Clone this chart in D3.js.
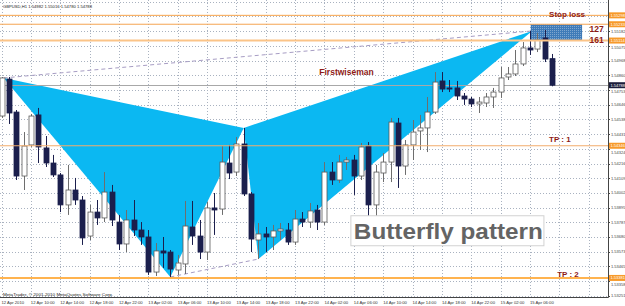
<!DOCTYPE html>
<html>
<head>
<meta charset="utf-8">
<script src="https://cdn.jsdelivr.net/npm/d3@7/dist/d3.min.js"></script>
<style>
  body { margin: 0; background: #fff; }
  svg { display: block; font-family: "Liberation Sans", Arial, sans-serif; }
</style>
</head>
<body>
<svg id="chart" width="625" height="306"></svg>
<script>
// GBPUSD H1 bars, first bar = 12 Apr 2010 06:00
const timeLabels = ["12 Apr 2010", "12 Apr 10:00", "12 Apr 14:00", "12 Apr 18:00", "12 Apr 22:00",
  "13 Apr 02:00", "13 Apr 06:00", "13 Apr 10:00", "13 Apr 14:00", "13 Apr 18:00", "13 Apr 22:00",
  "14 Apr 02:00", "14 Apr 06:00", "14 Apr 10:00", "14 Apr 14:00", "14 Apr 18:00", "14 Apr 22:00",
  "15 Apr 02:00", "15 Apr 06:00"];

const opens = [1.54563, 1.54833, 1.54592, 1.54125, 1.54352, 1.54571, 1.54330, 1.54220, 1.54133, 1.53914,
  1.54023, 1.53950, 1.53687, 1.53862, 1.53819, 1.54008, 1.53789, 1.53629, 1.53804, 1.53731,
  1.53680, 1.53424, 1.53578, 1.53570, 1.53439, 1.53483, 1.53753, 1.53687, 1.53570, 1.53892,
  1.53884, 1.54220, 1.54154, 1.54359, 1.53994, 1.53658, 1.53702, 1.53680, 1.53724, 1.53731,
  1.53643, 1.53811, 1.53789, 1.53877, 1.53789, 1.54154, 1.54096, 1.54227, 1.54242, 1.54125,
  1.54344, 1.53914, 1.54147, 1.54227, 1.54512, 1.54198, 1.54352, 1.54454, 1.54476, 1.54592,
  1.54819, 1.54768, 1.54768, 1.54709, 1.54687, 1.54651, 1.54658, 1.54702, 1.54738, 1.54848,
  1.54870, 1.54943, 1.55060, 1.55052, 1.55133, 1.54982];
const highs = [1.54848, 1.54848, 1.54607, 1.54446, 1.54578, 1.54622, 1.54417, 1.54279, 1.54147, 1.54206,
  1.54111, 1.53979, 1.53914, 1.53950, 1.54154, 1.54060, 1.53841, 1.53877, 1.53950, 1.53789,
  1.53731, 1.53636, 1.53680, 1.53585, 1.53549, 1.53943, 1.53943, 1.53804, 1.53935, 1.54001,
  1.54344, 1.54352, 1.54410, 1.54476, 1.54008, 1.53782, 1.53753, 1.53768, 1.53782, 1.53782,
  1.53877, 1.53862, 1.53928, 1.53914, 1.54227, 1.54227, 1.54279, 1.54264, 1.54279, 1.54366,
  1.54373, 1.54206, 1.54293, 1.54549, 1.54549, 1.54388, 1.54534, 1.54571, 1.54702, 1.54884,
  1.54884, 1.54826, 1.54819, 1.54731, 1.54702, 1.54702, 1.54731, 1.54768, 1.54921, 1.54921,
  1.55045, 1.55103, 1.55184, 1.55169, 1.55191, 1.55016];
const lows = [1.54549, 1.54505, 1.54096, 1.54023, 1.54337, 1.54220, 1.54191, 1.54118, 1.53862, 1.53841,
  1.53914, 1.53622, 1.53658, 1.53768, 1.53789, 1.53760, 1.53585, 1.53570, 1.53687, 1.53622,
  1.53403, 1.53395, 1.53454, 1.53388, 1.53403, 1.53410, 1.53622, 1.53519, 1.53512, 1.53695,
  1.53841, 1.54103, 1.54125, 1.53979, 1.53570, 1.53519, 1.53570, 1.53585, 1.53658, 1.53622,
  1.53622, 1.53753, 1.53746, 1.53731, 1.53768, 1.54060, 1.54074, 1.54169, 1.53987, 1.54096,
  1.53811, 1.53789, 1.54081, 1.54081, 1.54038, 1.54133, 1.54242, 1.54315, 1.54300, 1.54578,
  1.54738, 1.54738, 1.54680, 1.54644, 1.54629, 1.54585, 1.54629, 1.54622, 1.54695, 1.54826,
  1.54855, 1.54928, 1.55009, 1.55030, 1.54957, 1.54780];
const closes = [1.54841, 1.54585, 1.54125, 1.54344, 1.54563, 1.54337, 1.54220, 1.54133, 1.53914, 1.54023,
  1.53950, 1.53673, 1.53862, 1.53819, 1.54008, 1.53804, 1.53629, 1.53804, 1.53731, 1.53680,
  1.53424, 1.53578, 1.53563, 1.53446, 1.53490, 1.53760, 1.53687, 1.53570, 1.53892, 1.53877,
  1.54227, 1.54147, 1.54359, 1.53994, 1.53665, 1.53702, 1.53680, 1.53724, 1.53738, 1.53643,
  1.53811, 1.53789, 1.53870, 1.53789, 1.54154, 1.54096, 1.54227, 1.54242, 1.54125, 1.54337,
  1.53914, 1.54154, 1.54227, 1.54519, 1.54198, 1.54352, 1.54446, 1.54476, 1.54592, 1.54811,
  1.54760, 1.54760, 1.54709, 1.54687, 1.54651, 1.54665, 1.54702, 1.54738, 1.54841, 1.54870,
  1.54943, 1.55060, 1.55045, 1.55118, 1.54979, 1.54788];

// price axis grid values
const gridPrices = [1.55397, 1.55290, 1.55182, 1.55075, 1.54968, 1.54860, 1.54753, 1.54646, 1.54538,
  1.54431, 1.54324, 1.54216, 1.54109, 1.54002, 1.53895, 1.53787, 1.53680, 1.53573, 1.53465,
  1.53358, 1.53251];

// butterfly points X A B C D (bar index, price)
const patternBars = [0.3, 23, 33, 35, 72.3];
const patternPrices = [1.54841, 1.53388, 1.54476, 1.53519, 1.55184];

// horizontal levels: stop loss, 127, 161, TP1, TP2
const levelPrices = [1.55298, 1.55233, 1.55114, 1.54346, 1.53381];
const levelColors = ["#f7a34a", "#f5a552", "#fbc488", "#f2ad6c", "#ff9a14"];
const levelWidths = [1, 1, 2, 1, 1.5];
const bid = 1.54788;

// target zone rectangle
const zoneBars = [72.1, 79.1];
const zonePrices = [1.55233, 1.55114];

// text objects on the chart
const noteTexts = ["Stop loss", "127", "161", "Firstwiseman", "TP : 1", "TP : 2"];
const noteBars = [74.6, 80.1, 80.1, 43.3, 74.6, 75.7];
const notePrices = [1.55287, 1.55176, 1.55094, 1.54863, 1.54370, 1.53389];
const noteSizes = [8, 8.5, 8.5, 8.5, 8, 8];

const boxBars = [47.6, 73.9];
const boxPrices = [1.53835, 1.53616];

const W = 625, H = 306;
const plotRight = 608, plotBottom = 297;

const x = d3.scaleLinear().domain([0, 82]).range([1.5, 1.5 + 7.34 * 82]);
const y = d3.scaleLinear().domain([1.55410, 1.53250]).range([0, (1.55410 - 1.53250) / 0.000073]);

const svg = d3.select("#chart");
svg.append("rect").attr("width", W).attr("height", H).attr("fill", "#fff");

const defs = svg.append("defs");
defs.append("clipPath").attr("id", "clip")
  .append("rect").attr("width", plotRight).attr("height", plotBottom);
const pat = defs.append("pattern").attr("id", "dots")
  .attr("width", 2).attr("height", 2).attr("patternUnits", "userSpaceOnUse");
pat.append("rect").attr("width", 2).attr("height", 2).attr("fill", "#3f7bb8");
pat.append("rect").attr("width", 1).attr("height", 1).attr("fill", "#7ea6cf");

const g = svg.append("g").attr("clip-path", "url(#clip)");

// grid
const vGrid = d3.range(0, 84, 4);
g.selectAll(".vg").data(vGrid).enter().append("line")
  .attr("x1", d => Math.round(x(d)) + 0.5).attr("x2", d => Math.round(x(d)) + 0.5)
  .attr("y1", 0).attr("y2", plotBottom)
  .attr("stroke", "#a9b2c0").attr("stroke-width", 1).attr("stroke-dasharray", "1,2");
g.selectAll(".hg").data(gridPrices).enter().append("line")
  .attr("x1", 0).attr("x2", plotRight)
  .attr("y1", d => Math.round(y(d)) + 0.5).attr("y2", d => Math.round(y(d)) + 0.5)
  .attr("stroke", "#a9b2c0").attr("stroke-width", 1).attr("stroke-dasharray", "1,2");

// butterfly triangles XAB and BCD
const pts = patternBars.map((b, i) => [x(b), y(patternPrices[i])]);
[[0, 1, 2], [2, 3, 4]].forEach(t => {
  g.append("polygon")
    .attr("points", t.map(i => pts[i].join(",")).join(" "))
    .attr("fill", "#0bb8f2");
});

// zone rectangle
g.append("rect")
  .attr("x", x(zoneBars[0])).attr("y", y(zonePrices[0]))
  .attr("width", x(zoneBars[1]) - x(zoneBars[0]))
  .attr("height", y(zonePrices[1]) - y(zonePrices[0]))
  .attr("fill", "url(#dots)");

// dashed lines X-D and A-C
[[0, 4], [1, 3]].forEach(p => {
  g.append("line")
    .attr("x1", pts[p[0]][0]).attr("y1", pts[p[0]][1])
    .attr("x2", pts[p[1]][0]).attr("y2", pts[p[1]][1])
    .attr("stroke", "#a79dc4").attr("stroke-width", 1).attr("stroke-dasharray", "4,3");
});

// bid line
g.append("line").attr("x1", 0).attr("x2", plotRight)
  .attr("y1", Math.round(y(bid)) + 0.5).attr("y2", Math.round(y(bid)) + 0.5)
  .attr("stroke", "#a8a8a8");

// candles
const bars = d3.range(opens.length);
const candle = g.selectAll(".c").data(bars).enter().append("g");
candle.append("line")
  .attr("x1", d => Math.round(x(d)) + 0.5).attr("x2", d => Math.round(x(d)) + 0.5)
  .attr("y1", d => y(highs[d])).attr("y2", d => y(lows[d]))
  .attr("stroke", d => closes[d] >= opens[d] ? "#6e6e6e" : "#1b1f4d");
candle.append("rect")
  .attr("x", d => Math.round(x(d)) - 2)
  .attr("y", d => y(Math.max(opens[d], closes[d])))
  .attr("width", 5)
  .attr("height", d => Math.max(1, Math.abs(y(opens[d]) - y(closes[d]))))
  .attr("fill", d => closes[d] >= opens[d] ? "#fff" : "#1b1f4d")
  .attr("stroke", d => closes[d] >= opens[d] ? "#5a5a5a" : "#1b1f4d")
  .attr("stroke-width", 0.8);

// horizontal levels
g.selectAll(".lv").data(levelPrices).enter().append("line")
  .attr("x1", 0).attr("x2", plotRight)
  .attr("y1", d => y(d)).attr("y2", d => y(d))
  .attr("stroke", (d, i) => levelColors[i])
  .attr("stroke-width", (d, i) => levelWidths[i]);

// "Butterfly pattern" label box
g.append("rect")
  .attr("x", x(boxBars[0])).attr("y", y(boxPrices[0]))
  .attr("width", x(boxBars[1]) - x(boxBars[0]))
  .attr("height", y(boxPrices[1]) - y(boxPrices[0]))
  .attr("fill", "#fff").attr("stroke", "#d2d2d2");
g.append("text")
  .attr("x", x(boxBars[0]) + 3).attr("y", y(boxPrices[1]) - 6.5)
  .attr("font-size", 22).attr("font-weight", "bold").attr("fill", "#646464")
  .attr("textLength", 189).attr("lengthAdjust", "spacingAndGlyphs")
  .text("Butterfly pattern");

// notes
g.selectAll(".nt").data(noteTexts).enter().append("text")
  .attr("x", (d, i) => x(noteBars[i])).attr("y", (d, i) => y(notePrices[i]))
  .attr("font-size", (d, i) => noteSizes[i]).attr("font-weight", "bold")
  .attr("fill", "#8e1a16")
  .text(d => d);

// title and copyright
svg.append("text").attr("x", 3).attr("y", 7.5).attr("font-size", 4.3).attr("fill", "#222")
  .attr("textLength", 89).attr("lengthAdjust", "spacingAndGlyphs")
  .text("GBPUSD,H1 1.54982 1.55016 1.54780 1.54788");
svg.append("text").attr("x", 3).attr("y", 295.5).attr("font-size", 4.4).attr("fill", "#222")
  .attr("textLength", 110).attr("lengthAdjust", "spacingAndGlyphs")
  .text("MetaTrader, \u00a9 2001-2010 MetaQuotes Software Corp.");

// axes frame
svg.append("line").attr("x1", 0).attr("x2", plotRight + 0.5)
  .attr("y1", plotBottom + 0.5).attr("y2", plotBottom + 0.5).attr("stroke", "#444");
svg.append("line").attr("x1", plotRight + 0.5).attr("x2", plotRight + 0.5)
  .attr("y1", 0).attr("y2", plotBottom + 0.5).attr("stroke", "#444");

// time labels
svg.selectAll(".tl").data(timeLabels).enter().append("text")
  .attr("x", (d, i) => x(i * 4)).attr("y", 304)
  .attr("font-size", 4.2).attr("fill", "#333")
  .text(d => d);

// price labels; push a grid label clear of a level tag it would overlap
const fmt = d3.format(".5f");
const tagYs = levelPrices.concat([bid]).map(p => y(p));
const gridLabels = [];
gridPrices.forEach(p => {
  let ly = y(p);
  if (ly < 4) return;
  const near = tagYs.find(t => Math.abs(t - ly) < 6.5);
  if (near !== undefined) {
    if (Math.abs(near - ly) < 2) return;
    ly = ly > near ? near + 6.5 : near - 6.5;
  }
  gridLabels.push({p: p, ly: ly});
});
svg.selectAll(".pt").data(gridPrices.filter(p => y(p) > 4)).enter().append("line")
  .attr("x1", plotRight).attr("x2", plotRight + 2)
  .attr("y1", d => Math.round(y(d)) + 0.5).attr("y2", d => Math.round(y(d)) + 0.5)
  .attr("stroke", "#444");
svg.selectAll(".pl").data(gridLabels).enter().append("text")
  .attr("x", 611).attr("y", d => d.ly + 1.5)
  .attr("font-size", 4).attr("fill", "#444")
  .text(d => fmt(d.p));

const tags = levelPrices.map(p => ({p: p, bg: "#f79a2a"})).concat([{p: bid, bg: "#1c1e3c"}]);
const tag = svg.selectAll(".tg").data(tags).enter().append("g");
tag.append("rect")
  .attr("x", 609).attr("y", d => y(d.p) - 3)
  .attr("width", 16).attr("height", 6).attr("fill", d => d.bg);
tag.append("text")
  .attr("x", 610.5).attr("y", d => y(d.p) + 1.5)
  .attr("font-size", 4).attr("fill", "#fff")
  .text(d => fmt(d.p));
</script>
</body>
</html>
